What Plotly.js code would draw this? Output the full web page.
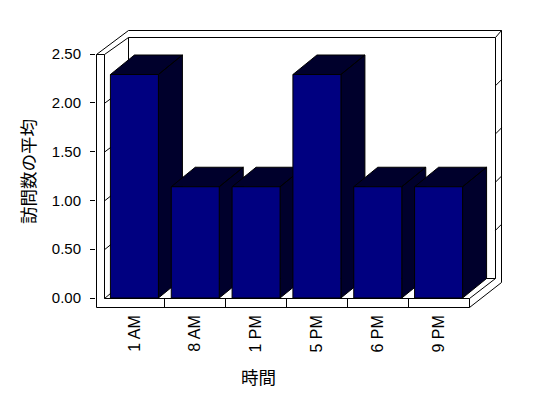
<!DOCTYPE html>
<html><head><meta charset="utf-8">
<script src="https://cdn.plot.ly/plotly-3.0.1.min.js"></script>
<style>html,body{margin:0;padding:0;background:#fff}#chart{width:548px;height:398px}</style>
</head><body><div id="chart"></div>
<script>
// ---- data ----
const categories = ['1 AM', '8 AM', '1 PM', '5 PM', '6 PM', '9 PM'];
const visitsAvg = [2.29, 1.14, 1.14, 2.29, 1.14, 1.14];
const yTickValues = [0, 0.5, 1, 1.5, 2, 2.5];
const xTitle = '時間';
const yTitle = '訪問数の平均';

// ---- geometry (pixels) ----
const W = 548, H = 398;
const catLeft = 104, catRight = 469;
const catPx = (catRight - catLeft) / categories.length;
const c0 = catLeft + catPx / 2;
const floorFrontY = 298, frontTopY = 54, yMax = 2.5;
const valPx = (floorFrontY - frontTopY) / yMax;
const backLeft = 128, backRight = 495, backFloorY = 278, backTopY = 37;
const backValPx = (backFloorY - backTopY) / yMax;
const depthX = 24, depthY = 19.5;
const barPx = 48;
const mainL = 96, mainR = 502, mainT = 29, mainB = 307;

const dataX = px => (px - c0) / catPx;
const dataY = py => (floorFrontY - py) / valPx;
const barW = barPx / catPx, ddx = depthX / catPx, ddy = depthY / valPx;

const faceColor = '#00002c';
const traces = [];
visitsAvg.forEach((v, i) => {
  const x0 = i - barW / 2, x1 = i + barW / 2;
  traces.push({
    type: 'scatter', mode: 'lines', xaxis: 'x2', yaxis: 'y2',
    x: [x1, x1 + ddx, x1 + ddx, x1, x1, null, x0, x0 + ddx, x1 + ddx, x1, x0],
    y: [0, ddy, v + ddy, v, 0, null, v, v + ddy, v + ddy, v, v],
    fill: 'toself', fillcolor: faceColor,
    line: {color: '#000', width: 1}, hoverinfo: 'skip', showlegend: false
  });
});
traces.push({
  type: 'bar', xaxis: 'x3', yaxis: 'y3',
  x: categories.map((c, i) => i), y: visitsAvg, width: barW,
  marker: {color: '#000080', line: {color: '#000', width: 1}},
  hoverinfo: 'skip', showlegend: false
});

const seg = (x0, y0, x1, y1) => ({
  type: 'line', xref: 'paper', yref: 'paper', layer: 'below',
  x0: x0 / W, y0: 1 - y0 / H, x1: x1 / W, y1: 1 - y1 / H,
  line: {color: '#000', width: 1}
});
const h = 0.5;
const shapes = [
  seg(mainL + h, frontTopY + h, mainL + h, mainB + h),
  seg(catLeft + h, frontTopY + h, catLeft + h, floorFrontY + h),
  seg(mainL + h, frontTopY + h, catLeft + h, frontTopY + h),
  seg(mainL + h, frontTopY + h, backLeft + h, 30 + h),
  seg(catLeft + h, frontTopY + h, backLeft + h, backTopY + h),
  seg(backLeft + h, 30 + h, 501 + h, 30 + h),
  seg(backLeft + h, backTopY + h, backRight + h, backTopY + h),
  seg(backLeft + h, backTopY + h, backLeft + h, backFloorY + h),
  seg(backRight + h, backTopY + h, backRight + h, backFloorY + h),
  seg(501 + h, 30 + h, 501 + h, 282 + h),
  seg(backRight + h, backTopY + h, 501 + h, 30 + h),
  seg(catLeft + h, floorFrontY + h, catRight + h, floorFrontY + h),
  seg(mainL + h, mainB + h, catRight + h, mainB + h),
  seg(catRight + h, floorFrontY + h, catRight + h, mainB + h),
  seg(catRight + h, floorFrontY + h, backRight + h, backFloorY + h),
  seg(catRight + h, mainB + h, 501 + h, 282 + h),
  seg(backLeft + h, backFloorY + h, backRight + h, backFloorY + h),
  seg(catLeft + h, floorFrontY + h, backLeft + h, backFloorY + h)
];
yTickValues.filter(v => v > 0 && v < yMax).forEach(v => {
  const fy = floorFrontY - valPx * v, by = backFloorY - backValPx * v;
  shapes.push(seg(catLeft + h, fy + h, backLeft + h, by + h));
  shapes.push(seg(backRight + h, by + h, 501 + h, by - 6 + h));
});
const boundaries = categories.slice(1).map((c, i) => i + 0.5);

const tickFont = {family: 'Liberation Sans, Arial, sans-serif', size: 15, color: '#000'};
const xTickFont = {family: 'Liberation Sans, Arial, sans-serif', size: 16, color: '#000'};
const cjkFont = {family: 'Noto Sans CJK JP, sans-serif', size: 17.5, color: '#000'};

const layout = {
  width: W, height: H,
  margin: {l: 0, r: 0, t: 0, b: 0, pad: 0},
  paper_bgcolor: '#fff', plot_bgcolor: 'rgba(0,0,0,0)',
  showlegend: false, hovermode: false,
  xaxis: {domain: [backLeft / W, backRight / W], range: [0, 1], visible: false, anchor: 'y', fixedrange: true},
  yaxis: {domain: [1 - backFloorY / H, 1 - backTopY / H], range: [0, yMax], anchor: 'x',
          tickmode: 'array', tickvals: yTickValues, showgrid: true, gridcolor: '#000', gridwidth: 1,
          showticklabels: false, ticks: '', zeroline: false, showline: false, fixedrange: true},
  xaxis2: {domain: [mainL / W, mainR / W], range: [dataX(mainL), dataX(mainR)], anchor: 'y2',
           tickmode: 'array', tickvals: categories.map((c, i) => i), ticktext: categories,
           tickangle: -90, ticks: '', showgrid: false, zeroline: false, showline: false,
           tickfont: xTickFont, ticklabelstandoff: 4,
           minor: {tickmode: 'array', tickvals: boundaries, ticks: 'inside', ticklen: 9, tickwidth: 1, tickcolor: '#000', showgrid: false},
           fixedrange: true},
  yaxis2: {domain: [1 - mainB / H, 1 - mainT / H], range: [dataY(mainB), dataY(mainT)], anchor: 'x2',
           tickmode: 'array', tickvals: yTickValues, tickformat: '.2f',
           ticks: 'outside', ticklen: 5, tickwidth: 1, tickcolor: '#000',
           showgrid: false, zeroline: false, showline: false, tickfont: tickFont, ticklabelstandoff: 6,
           fixedrange: true},
  xaxis3: {overlaying: 'x2', range: [dataX(mainL), dataX(mainR)], anchor: 'y3', visible: false, fixedrange: true},
  yaxis3: {overlaying: 'y2', range: [dataY(mainB), dataY(mainT)], anchor: 'x3', visible: false, fixedrange: true},
  shapes: shapes,
  annotations: [
    {text: xTitle, xref: 'paper', yref: 'paper', x: 258 / W, y: 1 - 376 / H, showarrow: false,
     xanchor: 'center', yanchor: 'middle', font: cjkFont},
    {text: yTitle, xref: 'paper', yref: 'paper', x: 27 / W, y: 1 - 172 / H, showarrow: false,
     textangle: -90, xanchor: 'center', yanchor: 'middle', font: cjkFont}
  ]
};
Plotly.newPlot('chart', traces, layout, {staticPlot: true, displayModeBar: false});
</script></body></html>
